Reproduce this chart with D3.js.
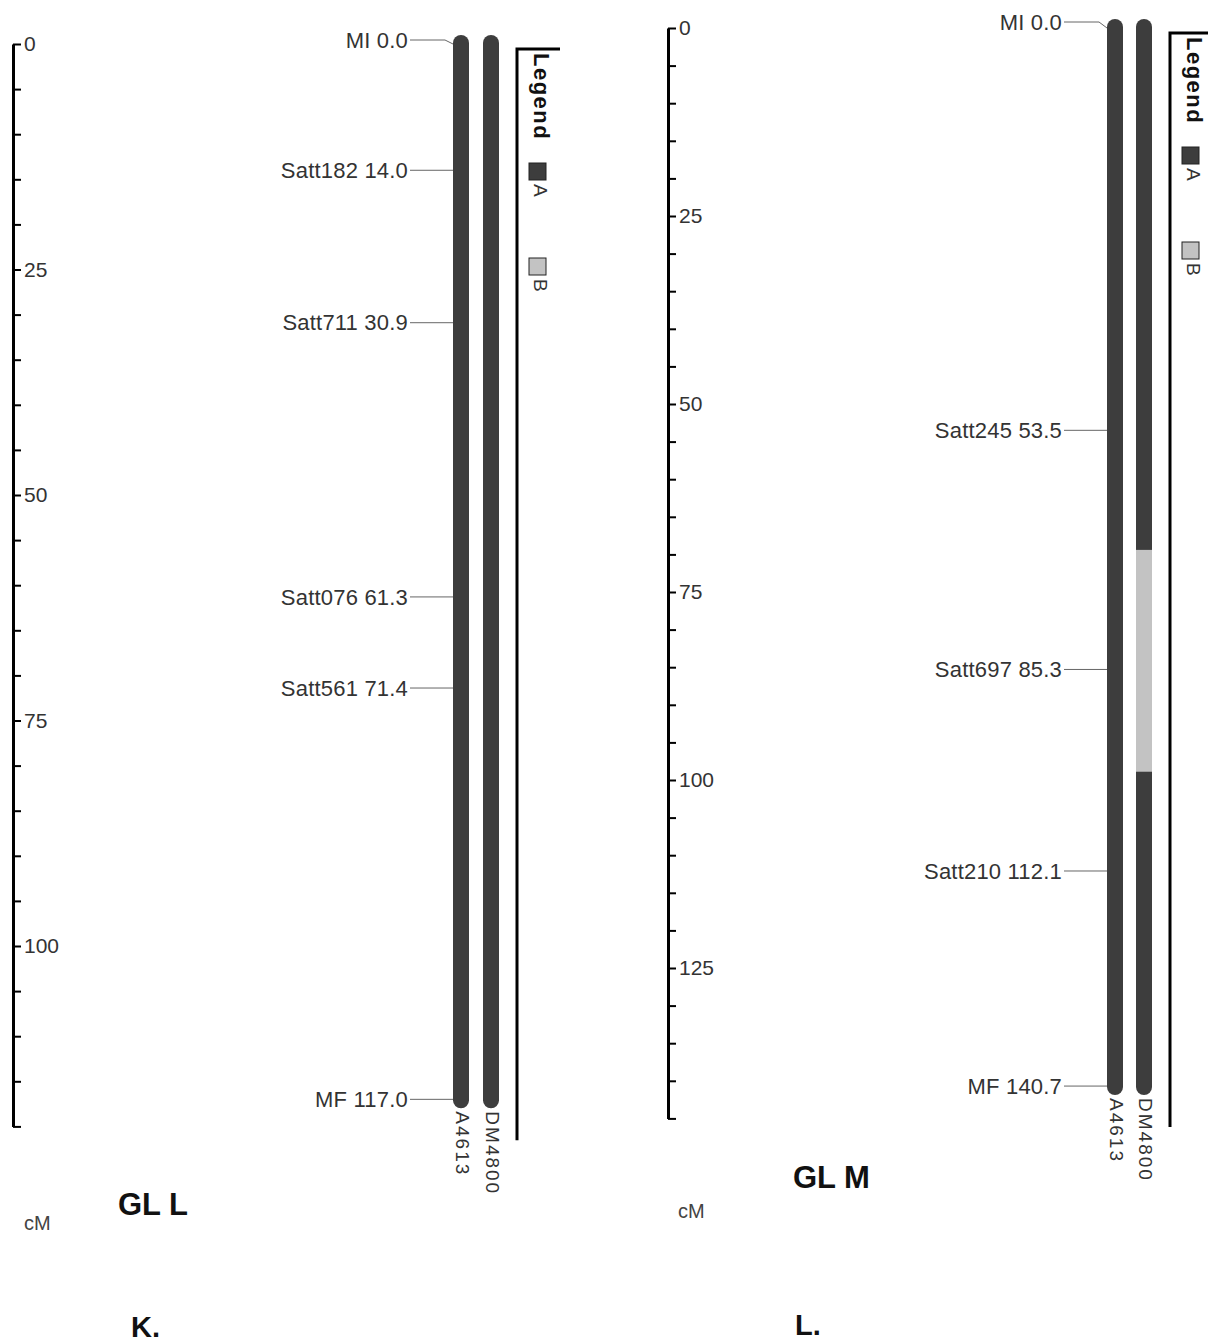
<!DOCTYPE html>
<html>
<head>
<meta charset="utf-8">
<script src="https://cdn.jsdelivr.net/npm/d3@7"></script>
<style>
  body { margin: 0; background: #fff; }
  svg { display: block; font-family: "Liberation Sans", Arial, sans-serif; }
</style>
</head>
<body>
<svg id="chart" width="1208" height="1343"></svg>
<script>
// linkage group L (panel K)
const markersK = ['MI', 'Satt182', 'Satt711', 'Satt076', 'Satt561', 'MF'];
const positionsK = [0.0, 14.0, 30.9, 61.3, 71.4, 117.0];

// linkage group M (panel L)
const markersL = ['MI', 'Satt245', 'Satt697', 'Satt210', 'MF'];
const positionsL = [0.0, 53.5, 85.3, 112.1, 140.7];

const lines = ['A4613', 'DM4800'];
const genotypes = ['A', 'B'];

// genotype blocks for each line: [start cM, end cM, genotype]
const blocksK = [
  [[0, 117.0, 'A']],
  [[0, 117.0, 'A']]
];
const blocksL = [
  [[0, 140.7, 'A']],
  [[0, 69.4, 'A'], [69.4, 98.9, 'B'], [98.9, 140.7, 'A']]
];

const axisMaxK = 120;
const axisMaxL = 145;
const tickStep = 5;
const labelStep = 25;

const groupNames = ['GL L', 'GL M'];
const panelTags = ['K.', 'L.'];

const colors = { A: '#3d3d3d', B: '#c3c3c3' };
const textColor = '#333';
const BAR_W = 16;

const panels = [
  {
    markers: markersK, positions: positionsK, blocks: blocksK, axisMax: axisMaxK,
    group: groupNames[0], tag: panelTags[0],
    axisX: 13, y0: 44, pxPerCm: 9.02, barX: [461, 491], legendX: 517, topLift: 4,
    title: [118, 1215], unit: [24, 1230], tagPos: [131, 1337]
  },
  {
    markers: markersL, positions: positionsL, blocks: blocksL, axisMax: axisMaxL,
    group: groupNames[1], tag: panelTags[1],
    axisX: 668, y0: 28, pxPerCm: 7.52, barX: [1115, 1144], legendX: 1170, topLift: 6,
    title: [793, 1188], unit: [678, 1218], tagPos: [795, 1335]
  }
];

const svg = d3.select('#chart');
svg.append('rect').attr('width', 1208).attr('height', 1343).attr('fill', '#fff');

panels.forEach(p => drawPanel(p));

function drawPanel(p) {
  const g = svg.append('g');
  const y = d3.scaleLinear()
    .domain([0, p.axisMax])
    .range([p.y0, p.y0 + p.axisMax * p.pxPerCm]);

  // cM ruler
  const axis = d3.axisRight(y)
    .tickValues(d3.range(0, p.axisMax + 1, tickStep))
    .tickSize(8)
    .tickSizeOuter(0)
    .tickPadding(3)
    .tickFormat(d => d % labelStep === 0 ? d : '');
  const ax = g.append('g')
    .attr('transform', `translate(${p.axisX},0)`)
    .call(axis);
  ax.select('.domain').attr('stroke', '#000').attr('stroke-width', 3);
  ax.selectAll('.tick line').attr('stroke', '#000').attr('stroke-width', 2);
  ax.selectAll('.tick text')
    .attr('fill', textColor)
    .attr('font-size', 21)
    .attr('font-family', '"Liberation Sans", Arial, sans-serif');

  // chromosome bars
  const chromEnd = d3.max(p.positions);
  lines.forEach((name, i) => {
    const cx = p.barX[i];
    g.append('rect')
      .attr('x', cx - BAR_W / 2)
      .attr('y', y(0) - BAR_W / 2 - 1)
      .attr('width', BAR_W)
      .attr('height', y(chromEnd) - y(0) + BAR_W + 2)
      .attr('rx', BAR_W / 2)
      .attr('fill', colors.A);
    g.selectAll(null)
      .data(p.blocks[i].filter(b => b[2] !== 'A'))
      .join('rect')
      .attr('x', cx - BAR_W / 2)
      .attr('y', d => y(d[0]))
      .attr('width', BAR_W)
      .attr('height', d => y(d[1]) - y(d[0]))
      .attr('fill', d => colors[d[2]]);

    g.append('text')
      .attr('transform', `translate(${cx - 5},${y(chromEnd) + 12}) rotate(90)`)
      .attr('font-size', 19)
      .attr('letter-spacing', 2)
      .attr('fill', textColor)
      .text(name);
  });

  // marker labels (the first label sits a little higher, with a bent leader)
  const barLeft = p.barX[0] - BAR_W / 2;
  const md = p.markers.map((m, i) => ({
    name: m,
    pos: p.positions[i],
    ly: y(p.positions[i]) - (i === 0 ? p.topLift : 0)
  }));
  g.selectAll('path.marker')
    .data(md)
    .join('path')
    .attr('class', 'marker')
    .attr('d', d => `M${barLeft - 43},${d.ly}H${barLeft - 8}L${barLeft},${y(d.pos)}`)
    .attr('fill', 'none')
    .attr('stroke', '#666')
    .attr('stroke-width', 1);
  g.selectAll('text.marker')
    .data(md)
    .join('text')
    .attr('class', 'marker')
    .attr('x', barLeft - 45)
    .attr('y', d => d.ly)
    .attr('dy', '0.35em')
    .attr('text-anchor', 'end')
    .attr('font-size', 22)
    .attr('letter-spacing', 0.2)
    .attr('fill', textColor)
    .text(d => `${d.name} ${d.pos.toFixed(1)}`);

  // legend
  const legTop = y(0) + 5;
  const legBottom = y(chromEnd) + 41;
  g.append('path')
    .attr('d', `M${p.legendX + 43},${legTop}H${p.legendX}V${legBottom}`)
    .attr('fill', 'none')
    .attr('stroke', '#000')
    .attr('stroke-width', 3);
  const lg = g.append('g')
    .attr('transform', `translate(${p.legendX},${legTop}) rotate(90)`);
  lg.append('text')
    .attr('x', 4)
    .attr('y', -17)
    .attr('font-size', 22)
    .attr('font-weight', 'bold')
    .attr('letter-spacing', 1.5)
    .attr('fill', '#111')
    .text('Legend');
  const sw = lg.selectAll('g.sw')
    .data(genotypes)
    .join('g')
    .attr('class', 'sw')
    .attr('transform', (d, i) => `translate(${114 + i * 95},0)`);
  sw.append('rect')
    .attr('x', 0)
    .attr('y', -29)
    .attr('width', 17)
    .attr('height', 17)
    .attr('fill', d => colors[d])
    .attr('stroke', '#222')
    .attr('stroke-width', 1);
  sw.append('text')
    .attr('x', 21)
    .attr('y', -17)
    .attr('font-size', 19)
    .attr('fill', textColor)
    .text(d => d);

  // titles
  g.append('text')
    .attr('x', p.title[0]).attr('y', p.title[1])
    .attr('font-size', 31).attr('font-weight', 'bold').attr('fill', '#111')
    .text(p.group);
  g.append('text')
    .attr('x', p.unit[0]).attr('y', p.unit[1])
    .attr('font-size', 20).attr('fill', '#444')
    .text('cM');
  g.append('text')
    .attr('x', p.tagPos[0]).attr('y', p.tagPos[1])
    .attr('font-size', 29).attr('font-weight', 'bold').attr('fill', '#111')
    .text(p.tag);
}
</script>
</body>
</html>
